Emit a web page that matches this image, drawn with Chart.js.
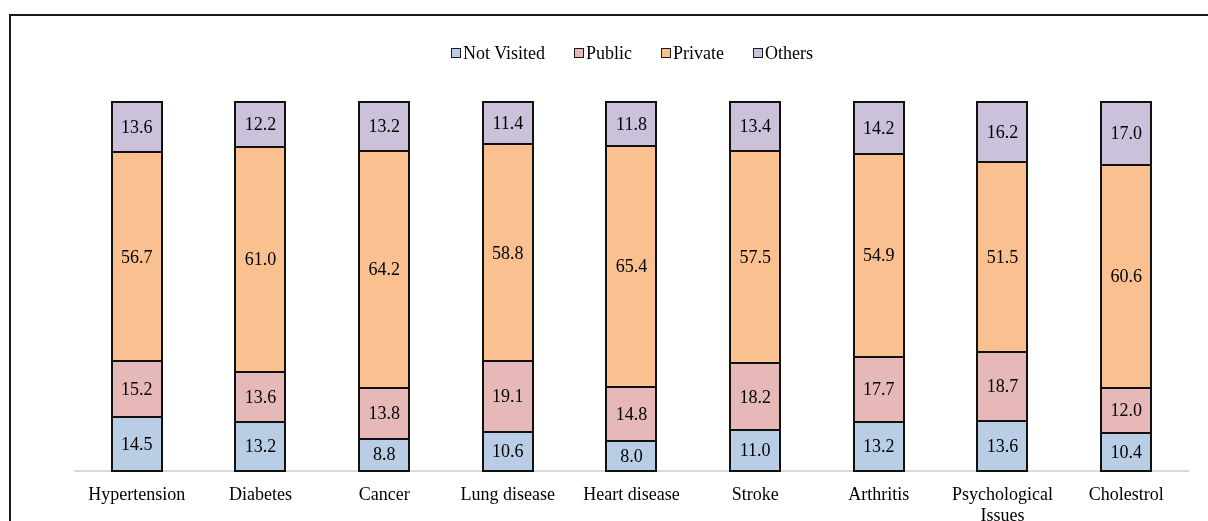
<!DOCTYPE html>
<html>
<head>
    <title>Health facility visited by disease</title>
    <script src="https://cdn.jsdelivr.net/npm/chart.js"></script>
    <style>
        body {
            margin: 0;
            background: #fff;
            font-family: "Liberation Serif", "Times New Roman", serif;
        }
        .frame {
            position: absolute;
            left: 9px;
            top: 14px;
            width: 1300px;
            height: 600px;
            border-top: 2px solid #1a1a1a;
            border-left: 2px solid #1a1a1a;
        }
        .chart-box {
            position: absolute;
            left: 0;
            top: 0;
            width: 1208px;
            height: 521px;
        }
        .legend {
            position: absolute;
            left: 451px;
            top: 42px;
            display: flex;
            font-size: 18px;
            line-height: 22px;
            color: #000;
        }
        .legend span.item {
            display: flex;
            align-items: center;
            margin-right: 29px;
        }
        .legend span.swatch {
            display: inline-block;
            width: 8px;
            height: 8px;
            border: 1.5px solid #1a1a1a;
            margin-right: 2px;
        }
    </style>
</head>
<body>
    <div class="frame"></div>
    <div class="chart-box">
        <canvas id="visitChart" width="1208" height="521"></canvas>
    </div>
    <div class="legend" id="legend"></div>

    <script>
        const categories = ['Hypertension', 'Diabetes', 'Cancer', 'Lung disease', 'Heart disease',
                            'Stroke', 'Arthritis', ['Psychological', 'Issues'], 'Cholestrol'];

        const notVisited = [14.5, 13.2, 8.8, 10.6, 8.0, 11.0, 13.2, 13.6, 10.4];
        const publicFac  = [15.2, 13.6, 13.8, 19.1, 14.8, 18.2, 17.7, 18.7, 12.0];
        const privateFac = [56.7, 61.0, 64.2, 58.8, 65.4, 57.5, 54.9, 51.5, 60.6];
        const others     = [13.6, 12.2, 13.2, 11.4, 11.8, 13.4, 14.2, 16.2, 17.0];

        const seriesNames = ['Not Visited', 'Public', 'Private', 'Others'];
        const seriesColors = ['#B9CDE5', '#E6B9B8', '#FAC090', '#CCC1DA'];
        const seriesValues = [notVisited, publicFac, privateFac, others];

        // legend as html so the box sits tight against the text like the original
        const legendEl = document.getElementById('legend');
        seriesNames.forEach((name, i) => {
            const item = document.createElement('span');
            item.className = 'item';
            item.innerHTML = `<span class="swatch" style="background:${seriesColors[i]}"></span>${name}`;
            legendEl.appendChild(item);
        });

        // outlines each segment on its edges (shared lines between segments)
        // and writes the value in the middle
        const segmentLabels = {
            id: 'segmentLabels',
            afterDatasetsDraw(chart) {
                const ctx = chart.ctx;
                ctx.save();
                ctx.strokeStyle = '#111';
                ctx.lineWidth = 2;
                chart.data.datasets.forEach((ds, i) => {
                    chart.getDatasetMeta(i).data.forEach(bar => {
                        const left = Math.round(bar.x - bar.width / 2);
                        const top = Math.round(Math.min(bar.y, bar.base));
                        const bottom = Math.round(Math.max(bar.y, bar.base));
                        ctx.strokeRect(left, top, Math.round(bar.width), bottom - top);
                    });
                });
                ctx.font = '18px "Liberation Serif", serif';
                ctx.fillStyle = '#000';
                ctx.textAlign = 'center';
                ctx.textBaseline = 'middle';
                chart.data.datasets.forEach((ds, i) => {
                    chart.getDatasetMeta(i).data.forEach((bar, j) => {
                        const y = (bar.y + bar.base) / 2;
                        ctx.fillText(ds.data[j].toFixed(1), bar.x, y + 1);
                    });
                });
                ctx.restore();
            }
        };

        const ctx = document.getElementById('visitChart').getContext('2d');
        new Chart(ctx, {
            type: 'bar',
            data: {
                labels: categories,
                datasets: seriesNames.map((name, i) => ({
                    label: name,
                    data: seriesValues[i],
                    backgroundColor: seriesColors[i],
                    borderWidth: 0,
                    categoryPercentage: 1,
                    barPercentage: 0.405
                }))
            },
            options: {
                responsive: false,
                animation: false,
                layout: {
                    padding: { left: 75, right: 20, top: 102, bottom: 0 }
                },
                plugins: {
                    legend: { display: false },
                    tooltip: { enabled: false }
                },
                scales: {
                    x: {
                        stacked: true,
                        grid: { display: false },
                        border: { display: true, color: '#d9d9d9', width: 2 },
                        afterFit(scale) { scale.height = 50; },
                        ticks: {
                            color: '#000',
                            padding: 6,
                            maxRotation: 0,
                            autoSkip: false,
                            font: { family: '"Liberation Serif", serif', size: 18, lineHeight: 1.15 }
                        }
                    },
                    y: {
                        stacked: true,
                        display: false,
                        min: 0,
                        max: 100
                    }
                }
            },
            plugins: [segmentLabels]
        });
    </script>
</body>
</html>
